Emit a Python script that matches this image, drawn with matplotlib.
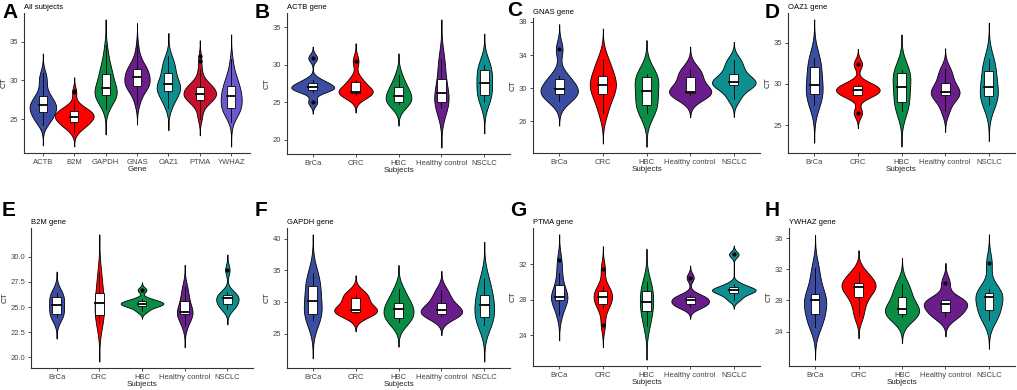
import numpy as np
import matplotlib
matplotlib.use("Agg")
import matplotlib.pyplot as plt

plt.rcParams['font.family'] = ['Liberation Sans', 'DejaVu Sans']

# ---- data (CT values) ----
subjects = ["BrCa", "CRC", "HBC", "Healthy control", "NSCLC"]
genes = ["ACTB", "B2M", "GAPDH", "GNAS", "OAZ1", "PTMA", "YWHAZ"]

actb = [
    [25.0, 26.4, 26.7, 26.9, 27.0, 27.2, 27.6, 28.0, 30.9],
    [26.0, 26.1, 26.3, 26.3, 26.4, 26.8, 27.7, 28.0, 30.5],
    [24.8, 24.9, 25.0, 25.5, 25.9, 26.3, 27.0, 27.3, 28.6],
    [24.2, 24.7, 25.0, 25.1, 26.3, 26.8, 28.1, 30.0, 30.8],
    [25.0, 25.8, 26.0, 27.0, 27.6, 28.3, 29.3, 29.8, 30.0],
]
b2m = [
    [24.0, 24.1, 24.3, 24.8, 25.2, 25.6, 26.0, 26.3, 26.4],
    [23.3, 23.8, 24.2, 24.8, 25.4, 25.9, 26.4, 27.5, 28.5],
    [24.6, 25.0, 25.15, 25.3, 25.35, 25.45, 25.6, 25.8, 26.7],
    [23.2, 24.0, 24.3, 24.4, 24.5, 25.0, 25.6, 26.2, 27.0],
    [24.8, 25.1, 25.3, 25.6, 25.9, 26.0, 26.2, 26.5, 28.7],
]
gapdh = [
    [27.2, 27.6, 28.1, 29.0, 30.1, 31.5, 32.6, 33.5, 34.6],
    [28.2, 28.3, 28.4, 28.6, 28.8, 29.5, 30.6, 31.0, 31.4],
    [26.8, 27.2, 27.5, 28.3, 28.9, 29.3, 29.8, 30.8, 32.0],
    [27.8, 28.0, 28.1, 28.4, 28.7, 29.2, 29.9, 30.8, 31.9],
    [26.3, 27.0, 27.6, 28.5, 29.5, 30.3, 31.1, 32.5, 33.8],
]
gnas = [
    [28.5, 29.0, 29.3, 29.6, 29.9, 30.2, 31.1, 31.5, 34.7],
    [27.0, 28.5, 29.3, 30.0, 30.4, 30.9, 31.5, 32.5, 33.5],
    [27.0, 27.5, 27.9, 28.8, 29.6, 30.5, 31.3, 31.5, 31.7],
    [29.2, 29.3, 29.4, 29.45, 29.5, 30.4, 31.3, 31.8, 32.3],
    [28.7, 29.8, 30.4, 30.6, 30.7, 31.0, 31.7, 32.5, 33.4],
]
oaz1 = [
    [27.5, 28.2, 28.8, 29.3, 29.9, 31.0, 32.0, 32.8, 33.2],
    [26.5, 28.6, 28.7, 29.0, 29.3, 29.5, 29.8, 30.0, 32.4],
    [26.7, 27.3, 27.8, 28.8, 29.6, 30.5, 31.3, 31.5, 31.7],
    [26.7, 28.0, 28.6, 28.8, 29.0, 29.5, 30.1, 31.0, 31.8],
    [27.5, 28.0, 28.5, 29.0, 29.6, 30.5, 31.6, 32.3, 33.0],
]
ptma = [
    [26.3, 27.5, 28.0, 28.2, 28.3, 29.0, 29.7, 31.0, 32.5],
    [25.2, 27.0, 27.5, 28.0, 28.3, 28.7, 29.0, 29.5, 31.5],
    [25.0, 26.0, 26.7, 27.2, 27.7, 28.3, 29.0, 29.5, 30.0],
    [27.2, 27.3, 27.5, 27.7, 28.0, 28.1, 28.3, 28.5, 30.5],
    [28.0, 28.5, 28.8, 29.0, 29.1, 29.2, 29.4, 29.8, 33.1],
]
ywhaz = [
    [24.6, 25.5, 26.3, 27.2, 28.0, 28.4, 28.8, 30.5, 32.2],
    [26.0, 27.5, 28.5, 29.3, 29.7, 30.0, 30.2, 31.0, 31.6],
    [25.9, 26.1, 26.3, 26.6, 26.9, 27.5, 28.4, 29.3, 30.1],
    [25.9, 26.2, 26.5, 27.2, 27.6, 27.8, 28.0, 28.1, 30.3],
    [25.5, 26.2, 26.8, 27.5, 28.5, 28.8, 29.0, 29.5, 32.8],
]

subject_colors = ["#3B4DA0", "#FF0000", "#0B8C45", "#6A1E8C", "#0E8E8E"]
gene_colors = ["#3B4DA0", "#FF0000", "#0B8C45", "#6A1E8C", "#0E8E8E", "#C8102E", "#6A5ACD"]

FS = 5.5


def bw_nrd0(x):
    x = np.asarray(x)
    sd = x.std(ddof=1)
    iqr = np.subtract(*np.percentile(x, [75, 25]))
    lo = min(sd, iqr / 1.34)
    if lo <= 0:
        lo = sd
    return 0.9 * lo * len(x) ** -0.2


def density(x, adjust=1.3):
    x = np.asarray(x)
    bw = bw_nrd0(x) * adjust
    grid = np.linspace(x.min() - 3 * bw, x.max() + 3 * bw, 512)
    d = np.exp(-0.5 * ((grid[:, None] - x[None, :]) / bw) ** 2).sum(1)
    d /= len(x) * bw * np.sqrt(2 * np.pi)
    return grid, d


def violin_panel(ax, groups, labels, colors, xlabel, title, yticks, box_w=0.2,
                 half_w=0.5, fmt=None):
    dens = [density(g) for g in groups]
    dmax = max(d.max() for _, d in dens)
    lo = min(gr.min() for gr, _ in dens)
    hi = max(gr.max() for gr, _ in dens)
    for i, ((gr, d), vals, c) in enumerate(zip(dens, groups, colors)):
        pos = i + 1
        hw = half_w * d / dmax
        ax.fill_betweenx(gr, pos - hw, pos + hw, facecolor=c, edgecolor="black", lw=0.6, zorder=2)
        v = np.asarray(vals)
        q1, med, q3 = np.percentile(v, [25, 50, 75])
        iqr = q3 - q1
        inside = v[(v >= q1 - 1.5 * iqr) & (v <= q3 + 1.5 * iqr)]
        wlo, whi = inside.min(), inside.max()
        ax.plot([pos, pos], [wlo, q1], color="black", lw=0.6, zorder=3)
        ax.plot([pos, pos], [q3, whi], color="black", lw=0.6, zorder=3)
        ax.add_patch(plt.Rectangle((pos - box_w / 2, q1), box_w, iqr, facecolor="white",
                                   edgecolor="black", lw=0.6, zorder=4))
        ax.plot([pos - box_w / 2, pos + box_w / 2], [med, med], color="black", lw=1.3, zorder=5)
        out = v[(v < q1 - 1.5 * iqr) | (v > q3 + 1.5 * iqr)]
        ax.scatter(np.full(len(out), pos), out, s=4, color="black", zorder=6)
    pad = 0.05 * (hi - lo)
    ax.set_ylim(lo - pad, hi + pad)
    ax.set_xlim(0.4, len(groups) + 0.6)
    ax.set_xticks(range(1, len(groups) + 1))
    ax.set_xticklabels(labels)
    ax.set_yticks(yticks)
    if fmt:
        ax.set_yticklabels([fmt.format(t) for t in yticks])
    ax.set_xlabel(xlabel, fontsize=FS + 0.3, labelpad=0.5, color="#222222")
    ax.set_ylabel("CT", fontsize=FS + 0.3, labelpad=1.5, color="#222222")
    ax.set_title(title, loc="left", fontsize=FS, pad=3)
    for s in ["top", "right"]:
        ax.spines[s].set_visible(False)
    for s in ["left", "bottom"]:
        ax.spines[s].set_color("#333333")
        ax.spines[s].set_linewidth(0.8)
    ax.tick_params(labelsize=FS, length=2.5, width=0.6, pad=1.5, colors="#333333", labelcolor="#444444")


W, H = 1017, 390
fig = plt.figure(figsize=(W / 100, H / 100), dpi=100)


def add_ax(l, r, t, b):
    return fig.add_axes([l / W, 1 - b / H, (r - l) / W, (b - t) / H])


all_groups = [np.concatenate(g) for g in [actb, b2m, gapdh, gnas, oaz1, ptma, ywhaz]]

axA = add_ax(24, 250, 13, 153)
violin_panel(axA, all_groups, genes, gene_colors, "Gene", "All subjects", [25, 30, 35],
             box_w=0.25, half_w=0.62)

axB = add_ax(287, 510, 13, 154)
violin_panel(axB, actb, subjects, subject_colors, "Subjects", "ACTB gene", [20, 25, 30, 35])

axC = add_ax(533, 760, 18, 153)
violin_panel(axC, gnas, subjects, subject_colors, "Subjects", "GNAS gene", [26, 30, 34, 38])

axD = add_ax(788, 1015, 13, 153)
violin_panel(axD, oaz1, subjects, subject_colors, "Subjects", "OAZ1 gene", [25, 30, 35])

axE = add_ax(31, 253, 228, 368)
violin_panel(axE, b2m, subjects, subject_colors, "Subjects", "B2M gene",
             [20.0, 22.5, 25.0, 27.5, 30.0], fmt="{:.1f}")

axF = add_ax(287, 510, 228, 368)
violin_panel(axF, gapdh, subjects, subject_colors, "Subjects", "GAPDH gene", [25, 30, 35, 40])

axG = add_ax(533, 760, 228, 366)
violin_panel(axG, ptma, subjects, subject_colors, "Subjects", "PTMA gene", [24, 28, 32])

axH = add_ax(789, 1015, 228, 366)
violin_panel(axH, ywhaz, subjects, subject_colors, "Subjects", "YWHAZ gene", [24, 28, 32, 36])

for letter, x, y in [("A", 2, 3), ("B", 255, 3), ("C", 507, 1), ("D", 765, 3),
                     ("E", 2, 201), ("F", 255, 201), ("G", 510, 201), ("H", 765, 201)]:
    fig.text(x / W, 1 - y / H, letter, fontsize=15, fontweight="bold", va="top", ha="left")

fig.savefig("out.png", dpi=100)
